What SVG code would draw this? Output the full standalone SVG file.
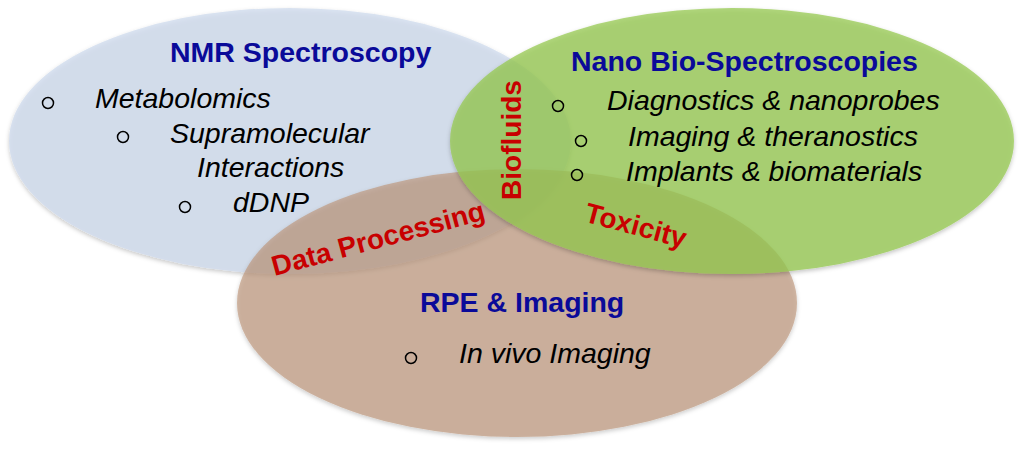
<svg xmlns="http://www.w3.org/2000/svg" width="1024" height="452" viewBox="0 0 1024 452">
  <defs>
    <filter id="shadow" x="-10%" y="-10%" width="120%" height="125%">
      <feDropShadow dx="0" dy="2" stdDeviation="2" flood-color="#000" flood-opacity="0.3"/>
    </filter>
    <style>
      text { font-family: "Liberation Sans", Arial, sans-serif; }
      .title { font-size: 28.5px; font-weight: bold; fill: #0a0a99; }
      .item { font-size: 28.5px; font-style: italic; fill: #000; }
      .overlap { font-size: 28px; font-weight: bold; fill: #c80000; }
      .bullet { fill: none; stroke: #000; stroke-width: 1.5; }
      .set { filter: url(#shadow); }
    </style>
  </defs>
  <rect width="1024" height="452" fill="#ffffff"/>

  <!-- sets -->
  <ellipse id="ellipse-nmr" class="set" cx="290" cy="141" rx="281" ry="133" fill="#ccd8ec" fill-opacity="0.7"/>
  <ellipse id="ellipse-rpe" class="set" cx="517" cy="303" rx="280" ry="134" fill="#bd9579" fill-opacity="0.65"/>
  <ellipse id="ellipse-nano" class="set" cx="732" cy="141" rx="282" ry="133" fill="#97ca52" fill-opacity="0.75"/>

  <g id="nmr">
    <text class="title" x="170" y="62">NMR Spectroscopy</text>
    <circle class="bullet" cx="48" cy="103" r="5.5"/>
    <text class="item" x="95" y="108">Metabolomics</text>
    <circle class="bullet" cx="123" cy="137" r="5.5"/>
    <text class="item" x="170" y="143">Supramolecular</text>
    <text class="item" x="197" y="177">Interactions</text>
    <circle class="bullet" cx="185" cy="207" r="5.5"/>
    <text class="item" x="233" y="212">dDNP</text>
  </g>

  <g id="nano">
    <text class="title" x="571" y="71">Nano Bio-Spectroscopies</text>
    <circle class="bullet" cx="558" cy="106" r="5.5"/>
    <text class="item" x="607" y="110">Diagnostics &amp; nanoprobes</text>
    <circle class="bullet" cx="581" cy="141" r="5.5"/>
    <text class="item" x="628" y="146">Imaging &amp; theranostics</text>
    <circle class="bullet" cx="577" cy="175" r="5.5"/>
    <text class="item" x="626" y="181">Implants &amp; biomaterials</text>
  </g>

  <g id="rpe">
    <text class="title" x="420" y="312">RPE &amp; Imaging</text>
    <circle class="bullet" cx="411" cy="358" r="5.5"/>
    <text class="item" x="459" y="363">In vivo Imaging</text>
  </g>

  <g id="overlaps">
    <text id="biofluids" class="overlap" x="0" y="0" text-anchor="middle" transform="translate(521 140) rotate(-90)">Biofluids</text>
    <text id="data-processing" class="overlap" x="0" y="10" text-anchor="middle" transform="translate(378 238) rotate(-15)">Data Processing</text>
    <text id="toxicity" class="overlap" x="0" y="10" text-anchor="middle" transform="translate(636 225) rotate(15)">Toxicity</text>
  </g>
</svg>
